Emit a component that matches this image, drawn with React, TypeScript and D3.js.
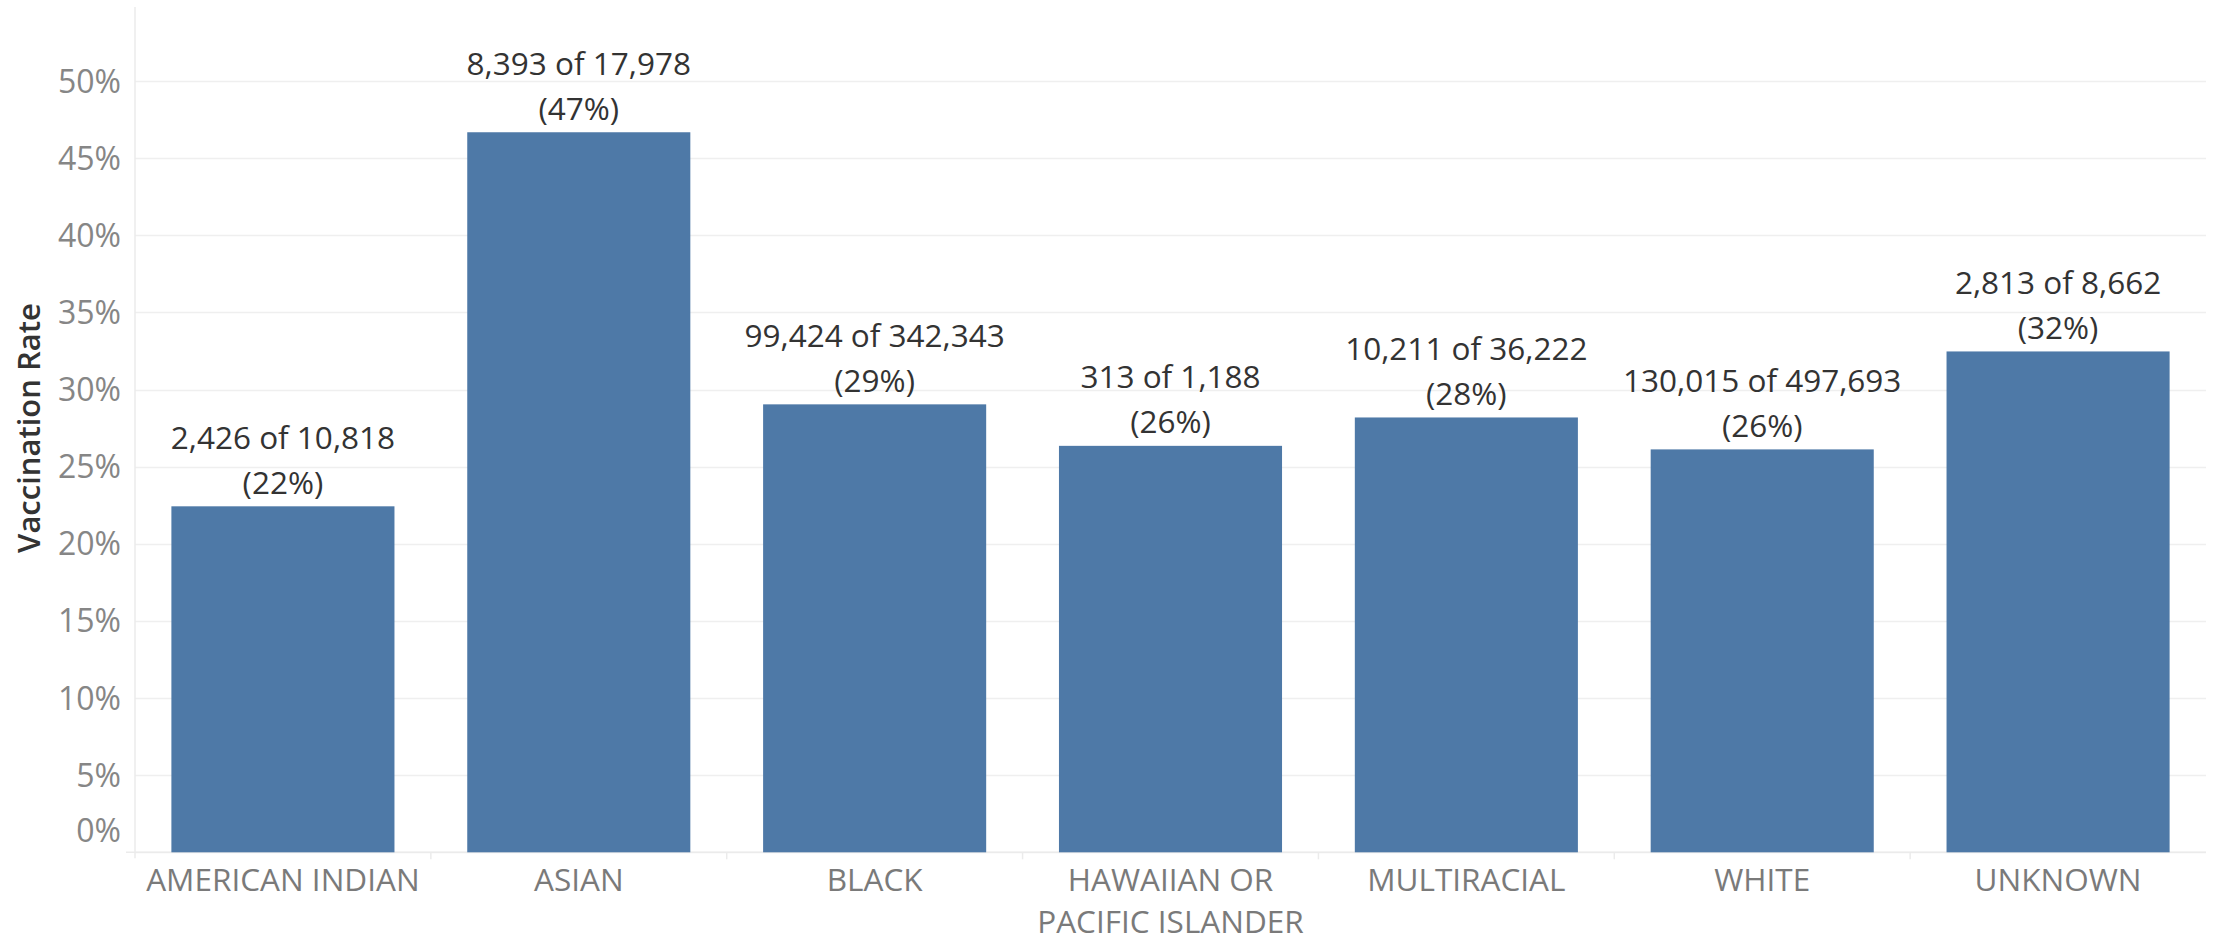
import React from "react";
import * as d3 from "d3";

const categories: string[][] = [
  ["AMERICAN INDIAN"],
  ["ASIAN"],
  ["BLACK"],
  ["HAWAIIAN OR", "PACIFIC ISLANDER"],
  ["MULTIRACIAL"],
  ["WHITE"],
  ["UNKNOWN"],
];
const vaccinated: string[] = ["2,426", "8,393", "99,424", "313", "10,211", "130,015", "2,813"];
const population: string[] = ["10,818", "17,978", "342,343", "1,188", "36,222", "497,693", "8,662"];
const rates: number[] = [0.2243, 0.4668, 0.2904, 0.2635, 0.2819, 0.2612, 0.3247];
const rateLabels: string[] = ["22%", "47%", "29%", "26%", "28%", "26%", "32%"];
const yTicks: number[] = [0, 0.05, 0.1, 0.15, 0.2, 0.25, 0.3, 0.35, 0.4, 0.45, 0.5];

const W = 2219;
const H = 938;
const FONT = "'Open Sans', 'Noto Sans', sans-serif";

export default function App() {
  React.useEffect(() => {
    document.body.style.margin = "0";
  }, []);

  const left = 135;
  const right = 2206;
  const top = 7;
  const bottom = 852.3;

  const keys = categories.map((c) => c.join(" "));
  const x = d3
    .scaleBand<string>()
    .domain(keys)
    .range([left, right])
    .paddingInner(0.246)
    .paddingOuter(0.123);
  const y = d3.scaleLinear().domain([0, 0.548]).range([bottom, top]);
  const step = x.step();
  const fmt = d3.format(".0%");

  return (
    <svg
      width={W}
      height={H}
      style={{ position: "absolute", left: 0, top: 0, background: "#fff" }}
      fontFamily={FONT}
    >
      {/* gridlines */}
      {yTicks.map((t) => (
        <line
          key={"g" + t}
          x1={left}
          x2={right}
          y1={Math.round(y(t)) + 0.5}
          y2={Math.round(y(t)) + 0.5}
          stroke="#efefef"
          strokeWidth={1.5}
        />
      ))}
      {/* baseline */}
      <line x1={126} x2={right} y1={bottom} y2={bottom} stroke="#ebebeb" strokeWidth={1.5} />
      {/* y axis line */}
      <line x1={left} x2={left} y1={top} y2={bottom + 6} stroke="#ebebeb" strokeWidth={1.5} />
      {/* category dividers */}
      {keys.map((k, i) =>
        i === 0 ? null : (
          <line
            key={"d" + k}
            x1={left + i * step}
            x2={left + i * step}
            y1={bottom}
            y2={bottom + 7}
            stroke="#ebebeb"
            strokeWidth={1.5}
          />
        )
      )}
      {/* y tick labels */}
      {yTicks.map((t) => (
        <text
          key={"t" + t}
          x={121}
          y={Math.min(y(t), bottom - 22)}
          dy="0.36em"
          textAnchor="end"
          fontSize={32}
          fill="#868686"
        >
          {fmt(t)}
        </text>
      ))}
      {/* y axis title */}
      <text
        transform={`translate(29, 428) rotate(-90)`}
        textAnchor="middle"
        dy="0.36em"
        fontSize={31}
        fontWeight={600}
        fill="#333"
      >
        Vaccination Rate
      </text>
      {/* bars */}
      {keys.map((k, i) => (
        <rect
          key={"b" + k}
          x={x(k)}
          y={y(rates[i])}
          width={x.bandwidth()}
          height={bottom - y(rates[i])}
          fill="#4e79a7"
        />
      ))}
      {/* bar labels */}
      {keys.map((k, i) => {
        const cx = (x(k) as number) + x.bandwidth() / 2;
        const yt = y(rates[i]);
        return (
          <g key={"l" + k} fontSize={31.5} fill="#333" textAnchor="middle">
            <text x={cx} y={yt - 69} dy="0.36em">
              {`${vaccinated[i]} of ${population[i]}`}
            </text>
            <text x={cx} y={yt - 24} dy="0.36em">
              {`(${rateLabels[i]})`}
            </text>
          </g>
        );
      })}
      {/* category labels */}
      {categories.map((lines, i) => {
        const cx = (x(keys[i]) as number) + x.bandwidth() / 2;
        return (
          <text key={"c" + i} textAnchor="middle" fontSize={31.5} fill="#7a7a7a">
            {lines.map((ln, j) => (
              <tspan key={j} x={cx} y={880 + j * 42} dy="0.36em">
                {ln}
              </tspan>
            ))}
          </text>
        );
      })}
    </svg>
  );
}
